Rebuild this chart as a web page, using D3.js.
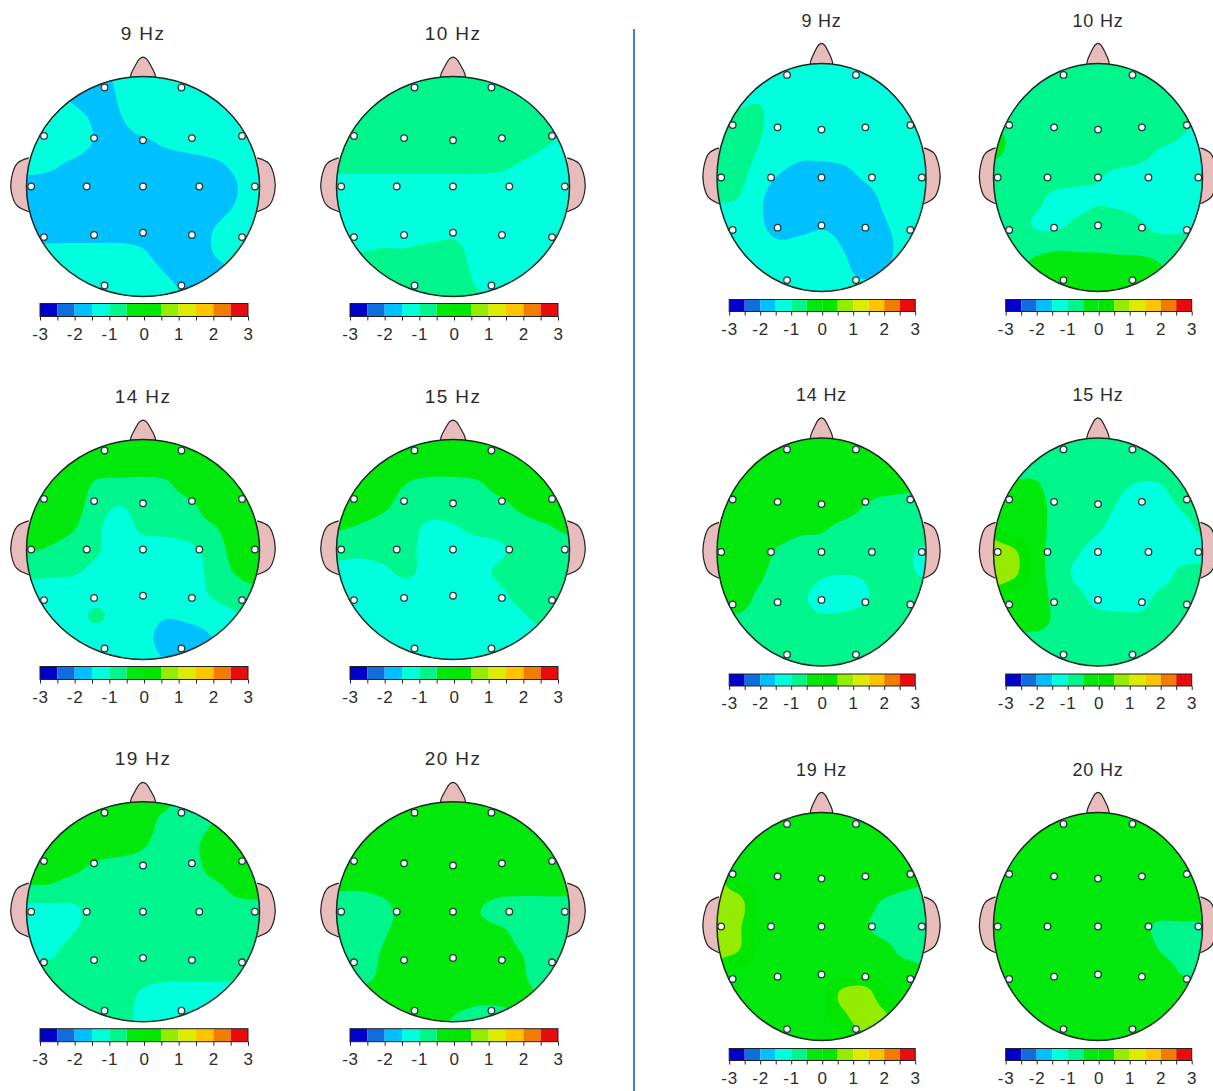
<!DOCTYPE html>
<html>
<head>
<meta charset="utf-8">
<title>Topographic maps</title>
<script src="https://cdn.jsdelivr.net/npm/d3@7"></script>
<style>
    html, body { margin: 0; padding: 0; background: #fff; }
    svg { display: block; }
</style>
</head>
<body>
<svg id="svg" width="1213" height="1091"></svg>
<script>
const frequencies = ["9 Hz", "10 Hz", "14 Hz", "15 Hz", "19 Hz", "20 Hz"];

const bandEdges = [-3, -2.5, -2, -1.5, -1, -0.5, 0, 0.5, 1, 1.5, 2, 2.5];
const bandColors = ["#0000c8", "#0f6edc", "#00c0ff", "#00ffdc", "#00f58c", "#00e80c",
    "#00e600", "#96ec00", "#dceb00", "#ffc400", "#f07c00", "#e80c0c"];
const colorbarTicks = [-3, -2.5, -2, -1.5, -1, -0.5, 0, 0.5, 1, 1.5, 2, 2.5, 3];

// 10-20 electrode sites, head units (-1..1)
const electrodeX = [-0.33, 0.33, -0.85, -0.42, 0, 0.42, 0.85, -0.96, -0.483, 0, 0.483, 0.96, -0.85, -0.42, 0, 0.42, 0.85, -0.33, 0.33];
const electrodeY = [-0.9, -0.9, -0.46, -0.44, -0.42, -0.44, -0.46, 0, 0, 0, 0, 0, 0.46, 0.44, 0.42, 0.44, 0.46, 0.9, 0.9];

// maps: 11 x 11 samples, left to right and top to bottom over the head
const left9 = [
    [-1.2, -1.2, -1.2, -1.6, -1.4, -1.2, -1.2, -1.2, -1.2, -1.2, -1.2],
    [-1.2, -1.2, -1.55, -1.8, -1.45, -1.2, -1.2, -1.2, -1.2, -1.2, -1.2],
    [-1.2, -1.2, -1.2, -1.6, -1.55, -1.2, -1.2, -1.2, -1.2, -1.2, -1.2],
    [-1.2, -1.2, -1.2, -1.55, -1.7, -1.6, -1.4, -1.25, -1.2, -1.2, -1.2],
    [-1.3, -1.4, -1.6, -1.8, -1.8, -1.8, -1.8, -1.75, -1.6, -1.4, -1.2],
    [-1.7, -1.7, -1.8, -1.8, -1.8, -1.8, -1.8, -1.8, -1.7, -1.52, -1.2],
    [-1.7, -1.7, -1.8, -1.8, -1.8, -1.8, -1.8, -1.8, -1.7, -1.45, -1.2],
    [-1.7, -1.7, -1.7, -1.7, -1.7, -1.7, -1.7, -1.7, -1.5, -1.2, -1.2],
    [-1.35, -1.35, -1.35, -1.35, -1.35, -1.45, -1.75, -1.75, -1.5, -1.2, -1.2],
    [-1.2, -1.2, -1.2, -1.2, -1.2, -1.2, -1.5, -1.7, -1.7, -1.6, -1.5],
    [-1.2, -1.2, -1.2, -1.2, -1.2, -1.2, -1.3, -1.6, -1.7, -1.7, -1.7]
];
const left10 = [
    [-0.75, -0.75, -0.75, -0.75, -0.75, -0.75, -0.75, -0.75, -0.75, -0.75, -0.75],
    [-0.75, -0.75, -0.75, -0.75, -0.75, -0.75, -0.75, -0.75, -0.75, -0.75, -0.75],
    [-0.75, -0.75, -0.75, -0.75, -0.75, -0.75, -0.75, -0.75, -0.75, -0.75, -0.75],
    [-0.75, -0.75, -0.75, -0.75, -0.75, -0.75, -0.75, -0.75, -0.75, -0.95, -1.15],
    [-0.85, -0.85, -0.85, -0.85, -0.85, -0.85, -0.85, -0.9, -1.05, -1.2, -1.2],
    [-1.2, -1.2, -1.2, -1.2, -1.2, -1.2, -1.2, -1.2, -1.2, -1.2, -1.2],
    [-1.25, -1.25, -1.25, -1.25, -1.25, -1.25, -1.25, -1.25, -1.25, -1.25, -1.25],
    [-1.2, -1.2, -1.2, -1.2, -1.2, -1.1, -1.2, -1.25, -1.25, -1.25, -1.25],
    [-1.0, -1.0, -0.95, -0.95, -0.85, -0.85, -1.15, -1.25, -1.25, -1.25, -1.25],
    [-0.75, -0.75, -0.75, -0.75, -0.75, -0.75, -1.08, -1.25, -1.25, -1.25, -1.25],
    [-0.75, -0.75, -0.75, -0.75, -0.75, -0.75, -0.95, -1.25, -1.25, -1.25, -1.25]
];
const left14 = [
    [-0.25, -0.25, -0.25, -0.25, -0.25, -0.25, -0.25, -0.25, -0.25, -0.25, -0.25],
    [-0.25, -0.25, -0.25, -0.25, -0.25, -0.25, -0.25, -0.25, -0.25, -0.25, -0.25],
    [-0.25, -0.25, -0.25, -0.55, -0.6, -0.6, -0.55, -0.25, -0.25, -0.25, -0.25],
    [-0.25, -0.25, -0.3, -0.75, -1.0, -0.75, -0.75, -0.6, -0.25, -0.25, -0.25],
    [-0.25, -0.3, -0.45, -0.9, -1.2, -0.9, -0.85, -0.75, -0.55, -0.25, -0.25],
    [-0.45, -0.55, -0.75, -0.95, -1.2, -1.2, -1.2, -1.1, -0.8, -0.3, -0.25],
    [-0.85, -0.9, -0.95, -1.1, -1.2, -1.2, -1.2, -1.2, -0.85, -0.45, -0.3],
    [-1.2, -1.2, -1.2, -1.2, -1.2, -1.2, -1.2, -1.2, -0.95, -0.75, -0.6],
    [-1.2, -1.2, -1.2, -0.93, -1.2, -1.25, -1.45, -1.35, -1.2, -1.05, -0.9],
    [-1.2, -1.2, -1.2, -1.2, -1.25, -1.3, -1.75, -1.75, -1.5, -1.2, -1.2],
    [-1.25, -1.25, -1.25, -1.25, -1.25, -1.25, -1.55, -1.7, -1.6, -1.25, -1.25]
];
const left15 = [
    [-0.25, -0.25, -0.25, -0.25, -0.25, -0.25, -0.25, -0.25, -0.25, -0.25, -0.25],
    [-0.25, -0.25, -0.25, -0.25, -0.25, -0.25, -0.25, -0.25, -0.25, -0.25, -0.25],
    [-0.25, -0.25, -0.25, -0.5, -0.6, -0.6, -0.55, -0.35, -0.25, -0.25, -0.25],
    [-0.25, -0.25, -0.4, -0.7, -0.75, -0.75, -0.75, -0.6, -0.4, -0.25, -0.25],
    [-0.45, -0.55, -0.7, -0.8, -1.1, -1.05, -0.85, -0.75, -0.65, -0.55, -0.4],
    [-0.8, -0.85, -0.8, -0.85, -1.2, -1.25, -1.25, -1.1, -0.75, -0.75, -0.7],
    [-1.15, -1.2, -1.1, -0.9, -1.2, -1.25, -1.2, -0.9, -0.75, -0.75, -0.75],
    [-1.25, -1.25, -1.25, -1.25, -1.25, -1.25, -1.25, -1.1, -0.8, -0.75, -0.7],
    [-1.25, -1.25, -1.25, -1.25, -1.25, -1.25, -1.25, -1.25, -1.05, -0.75, -0.75],
    [-1.25, -1.25, -1.25, -1.25, -1.25, -1.25, -1.25, -1.25, -1.25, -1.25, -1.25],
    [-1.25, -1.25, -1.25, -1.25, -1.25, -1.25, -1.25, -1.25, -1.25, -1.25, -1.25]
];
const left19 = [
    [-0.25, -0.25, -0.25, -0.25, -0.25, -0.25, -0.4, -0.75, -0.75, -0.75, -0.75],
    [-0.25, -0.25, -0.25, -0.25, -0.25, -0.25, -0.7, -0.75, -0.5, -0.35, -0.3],
    [-0.25, -0.25, -0.25, -0.25, -0.25, -0.45, -0.75, -0.65, -0.3, -0.25, -0.25],
    [-0.25, -0.3, -0.4, -0.6, -0.75, -0.75, -0.75, -0.7, -0.35, -0.25, -0.25],
    [-0.6, -0.6, -0.75, -0.75, -0.75, -0.75, -0.75, -0.75, -0.65, -0.4, -0.3],
    [-1.2, -1.2, -1.1, -0.8, -0.75, -0.75, -0.75, -0.75, -0.75, -0.7, -0.75],
    [-1.2, -1.2, -1.0, -0.8, -0.75, -0.75, -0.75, -0.75, -0.75, -0.75, -0.75],
    [-1.05, -1.05, -0.8, -0.75, -0.75, -0.75, -0.75, -0.75, -0.75, -0.75, -0.75],
    [-0.75, -0.75, -0.75, -0.75, -0.75, -0.9, -0.95, -0.95, -0.95, -0.95, -0.9],
    [-0.75, -0.75, -0.75, -0.75, -0.8, -1.1, -1.2, -1.2, -1.2, -1.2, -1.2],
    [-0.75, -0.75, -0.75, -0.75, -0.85, -1.1, -1.2, -1.2, -1.2, -1.2, -1.2]
];
const left20 = [
    [-0.25, -0.25, -0.25, -0.25, -0.25, -0.25, -0.25, -0.25, -0.25, -0.25, -0.25],
    [-0.25, -0.25, -0.25, -0.25, -0.25, -0.25, -0.25, -0.25, -0.25, -0.25, -0.25],
    [-0.25, -0.25, -0.25, -0.25, -0.25, -0.25, -0.25, -0.25, -0.25, -0.25, -0.25],
    [-0.25, -0.25, -0.25, -0.25, -0.25, -0.25, -0.25, -0.25, -0.25, -0.25, -0.25],
    [-0.48, -0.48, -0.4, -0.25, -0.25, -0.25, -0.25, -0.35, -0.4, -0.4, -0.4],
    [-0.75, -0.75, -0.65, -0.3, -0.25, -0.25, -0.45, -0.75, -0.75, -0.75, -0.75],
    [-0.75, -0.75, -0.55, -0.3, -0.25, -0.25, -0.25, -0.35, -0.7, -0.75, -0.75],
    [-0.75, -0.75, -0.45, -0.25, -0.25, -0.25, -0.25, -0.25, -0.5, -0.75, -0.75],
    [-0.75, -0.65, -0.4, -0.25, -0.25, -0.25, -0.25, -0.25, -0.45, -0.75, -0.75],
    [-0.25, -0.25, -0.25, -0.25, -0.25, -0.3, -0.4, -0.4, -0.35, -0.6, -0.75],
    [-0.25, -0.25, -0.25, -0.25, -0.25, -0.55, -0.75, -0.75, -0.6, -0.6, -0.75]
];
const right9 = [
    [-1.25, -1.25, -1.25, -1.25, -1.25, -1.25, -1.25, -1.25, -1.25, -1.25, -1.25],
    [-1.25, -1.25, -1.25, -1.25, -1.25, -1.25, -1.25, -1.25, -1.25, -1.25, -1.25],
    [-1.0, -1.0, -0.95, -1.25, -1.25, -1.25, -1.25, -1.25, -1.25, -1.25, -1.25],
    [-0.8, -0.75, -0.95, -1.25, -1.25, -1.25, -1.25, -1.25, -1.25, -1.25, -1.25],
    [-0.75, -0.75, -1.05, -1.25, -1.4, -1.4, -1.35, -1.25, -1.25, -1.25, -1.25],
    [-0.75, -0.85, -1.25, -1.55, -1.75, -1.75, -1.7, -1.45, -1.25, -1.25, -1.25],
    [-0.98, -1.02, -1.4, -1.8, -1.8, -1.8, -1.8, -1.8, -1.4, -1.25, -1.25],
    [-1.25, -1.25, -1.4, -1.8, -1.75, -1.6, -1.7, -1.8, -1.55, -1.25, -1.25],
    [-1.25, -1.25, -1.25, -1.4, -1.3, -1.25, -1.52, -1.8, -1.7, -1.25, -1.25],
    [-1.25, -1.25, -1.25, -1.25, -1.25, -1.25, -1.35, -1.7, -1.55, -1.25, -1.25],
    [-1.25, -1.25, -1.25, -1.25, -1.25, -1.25, -1.25, -1.25, -1.25, -1.25, -1.25]
];
const right10 = [
    [-0.75, -0.75, -0.75, -0.75, -0.75, -0.75, -0.75, -0.75, -0.75, -0.75, -0.75],
    [-0.75, -0.75, -0.75, -0.75, -0.75, -0.75, -0.75, -0.75, -0.75, -0.75, -0.75],
    [-0.75, -0.75, -0.75, -0.75, -0.75, -0.75, -0.75, -0.75, -0.75, -0.75, -0.75],
    [-0.45, -0.6, -0.75, -0.75, -0.75, -0.75, -0.75, -0.75, -0.75, -0.95, -1.15],
    [-0.45, -0.6, -0.75, -0.75, -0.75, -0.75, -0.75, -0.85, -1.1, -1.2, -1.25],
    [-0.75, -0.75, -0.75, -0.75, -0.85, -0.97, -1.15, -1.25, -1.25, -1.25, -1.25],
    [-0.75, -0.75, -0.85, -1.2, -1.2, -1.05, -1.15, -1.25, -1.25, -1.25, -1.25],
    [-0.75, -0.75, -1.05, -1.15, -0.9, -0.75, -0.75, -0.95, -1.2, -1.2, -1.1],
    [-0.75, -0.75, -0.7, -0.6, -0.6, -0.6, -0.65, -0.7, -0.75, -0.75, -0.75],
    [-0.75, -0.75, -0.3, -0.25, -0.25, -0.25, -0.25, -0.25, -0.45, -0.75, -0.75],
    [-0.75, -0.75, -0.25, -0.25, -0.25, -0.25, -0.25, -0.25, -0.25, -0.75, -0.75]
];
const right14 = [
    [-0.25, -0.25, -0.25, -0.25, -0.25, -0.25, -0.25, -0.25, -0.25, -0.25, -0.25],
    [-0.25, -0.25, -0.25, -0.25, -0.25, -0.25, -0.25, -0.25, -0.25, -0.25, -0.25],
    [-0.25, -0.25, -0.25, -0.25, -0.25, -0.25, -0.25, -0.25, -0.25, -0.35, -0.4],
    [-0.25, -0.25, -0.25, -0.25, -0.25, -0.25, -0.25, -0.5, -0.7, -0.7, -0.75],
    [-0.25, -0.25, -0.25, -0.25, -0.4, -0.45, -0.65, -0.75, -0.75, -0.75, -0.75],
    [-0.25, -0.25, -0.25, -0.6, -0.75, -0.75, -0.75, -0.75, -0.75, -0.9, -1.1],
    [-0.25, -0.25, -0.4, -0.75, -0.75, -0.95, -1.0, -0.95, -0.75, -0.9, -1.05],
    [-0.25, -0.25, -0.6, -0.75, -0.9, -1.2, -1.25, -1.1, -0.75, -0.75, -0.75],
    [-0.7, -0.6, -0.75, -0.75, -0.8, -0.9, -0.85, -0.75, -0.75, -0.75, -0.75],
    [-0.75, -0.75, -0.75, -0.75, -0.75, -0.75, -0.75, -0.75, -0.75, -0.75, -0.75],
    [-0.75, -0.75, -0.75, -0.75, -0.75, -0.75, -0.75, -0.75, -0.75, -0.75, -0.75]
];
const right15 = [
    [-0.75, -0.75, -0.75, -0.75, -0.75, -0.75, -0.75, -0.75, -0.75, -0.75, -0.75],
    [-0.75, -0.75, -0.75, -0.75, -0.75, -0.75, -0.75, -0.75, -0.75, -0.75, -0.75],
    [-0.45, -0.45, -0.45, -0.75, -0.75, -0.75, -0.9, -1.02, -1.0, -0.75, -0.75],
    [-0.25, -0.25, -0.25, -0.7, -0.75, -0.8, -1.05, -1.25, -1.2, -0.95, -0.75],
    [0.2, -0.25, -0.25, -0.7, -0.75, -0.95, -1.2, -1.25, -1.25, -1.2, -0.9],
    [0.8, 0.6, -0.25, -0.7, -0.95, -1.2, -1.25, -1.25, -1.25, -1.25, -1.2],
    [0.8, 0.6, -0.25, -0.7, -1.1, -1.25, -1.25, -1.25, -1.25, -0.85, -0.75],
    [0.2, -0.25, -0.25, -0.65, -0.85, -1.2, -1.25, -1.25, -0.85, -0.75, -0.75],
    [-0.25, -0.25, -0.25, -0.6, -0.75, -0.8, -0.85, -0.85, -0.75, -0.75, -0.75],
    [-0.75, -0.75, -0.75, -0.75, -0.75, -0.75, -0.75, -0.75, -0.75, -0.75, -0.75],
    [-0.75, -0.75, -0.75, -0.75, -0.75, -0.75, -0.75, -0.75, -0.75, -0.75, -0.75]
];
const right19 = [
    [-0.1, -0.1, -0.1, -0.1, -0.1, -0.1, -0.1, -0.1, -0.1, -0.1, -0.1],
    [-0.1, -0.1, -0.1, -0.1, -0.1, -0.1, -0.1, -0.1, -0.1, -0.1, -0.1],
    [-0.1, -0.1, -0.1, -0.1, -0.1, -0.1, -0.1, -0.1, -0.1, -0.1, -0.1],
    [0.6, 0.1, -0.1, -0.1, -0.1, -0.1, -0.1, -0.1, -0.1, -0.3, -0.45],
    [0.75, 0.75, -0.1, -0.1, -0.1, -0.1, -0.1, -0.2, -0.6, -0.75, -0.75],
    [0.75, 0.6, -0.1, -0.1, -0.1, -0.1, -0.1, -0.4, -0.75, -0.75, -0.75],
    [0.75, 0.55, -0.1, -0.1, -0.1, -0.1, -0.1, -0.1, -0.3, -0.7, -0.75],
    [0.1, -0.1, -0.1, -0.1, -0.1, -0.1, -0.1, -0.1, -0.1, -0.2, -0.4],
    [-0.1, -0.1, -0.1, -0.1, -0.1, -0.1, 0.65, 0.85, 0.1, -0.1, -0.1],
    [-0.1, -0.1, -0.1, -0.1, -0.1, -0.1, 0.3, 0.85, 0.65, -0.1, -0.1],
    [-0.1, -0.1, -0.1, -0.1, -0.1, -0.1, -0.1, 0.3, 0.65, -0.1, -0.1]
];
const right20 = [
    [-0.1, -0.1, -0.1, -0.1, -0.1, -0.1, -0.1, -0.1, -0.1, -0.1, -0.1],
    [-0.1, -0.1, -0.1, -0.1, -0.1, -0.1, -0.1, -0.1, -0.1, -0.1, -0.1],
    [-0.1, -0.1, -0.1, -0.1, -0.1, -0.1, -0.1, -0.1, -0.1, -0.1, -0.1],
    [-0.1, -0.1, -0.1, -0.1, -0.1, -0.1, -0.1, -0.1, -0.1, -0.1, -0.1],
    [-0.1, -0.1, -0.1, -0.1, -0.1, -0.1, -0.1, -0.1, -0.1, -0.1, -0.1],
    [-0.1, -0.1, -0.1, -0.1, -0.1, -0.1, -0.1, -0.35, -0.6, -0.6, -0.6],
    [-0.1, -0.1, -0.1, -0.1, -0.1, -0.1, -0.1, -0.1, -0.55, -0.75, -0.75],
    [-0.1, -0.1, -0.1, -0.1, -0.1, -0.1, -0.1, -0.1, -0.1, -0.55, -0.65],
    [-0.1, -0.1, -0.1, -0.1, -0.1, -0.1, -0.1, -0.1, -0.1, -0.1, -0.1],
    [-0.1, -0.1, -0.1, -0.1, -0.1, -0.1, -0.1, -0.1, -0.1, -0.1, -0.1],
    [-0.1, -0.1, -0.1, -0.1, -0.1, -0.1, -0.1, -0.1, -0.1, -0.1, -0.1]
];

const leftMaps = [left9, left10, left14, left15, left19, left20];
const rightMaps = [right9, right10, right14, right15, right19, right20];

const svg = d3.select("#svg");
const fineSteps = 6;
let clipCount = 0;

const noseShape = [[-0.11, -0.98], [-0.1, -1.03], [-0.066, -1.1], [-0.03, -1.16], [0, -1.176], [0.03, -1.16], [0.066, -1.1], [0.1, -1.03], [0.11, -0.98]];
const earShape = [[0.98, -0.26], [1.08, -0.21], [1.13, -0.07], [1.13, 0.05], [1.085, 0.17], [0.98, 0.23]];

// one cubic step along a run of samples, ends clamped
function cubicAt(line, pos) {
    const i = Math.min(Math.floor(pos), line.length - 2);
    const t = pos - i;
    const p0 = line[Math.max(i - 1, 0)], p1 = line[i], p2 = line[i + 1], p3 = line[Math.min(i + 2, line.length - 1)];
    return 0.5 * (2 * p1 + (p2 - p0) * t + (2 * p0 - 5 * p1 + 4 * p2 - p3) * t * t + (3 * p1 - p0 - 3 * p2 + p3) * t * t * t);
}

// finer raster of a map so the contour edges come out round
function refine(rows) {
    const n = rows.length;
    const size = (n - 1) * fineSteps + 1;
    const wide = rows.map(row => d3.range(size).map(k => cubicAt(row, k / fineSteps)));
    const out = [];
    for (let j = 0; j < size; j++) {
        for (let k = 0; k < size; k++) {
            out.push(cubicAt(wide.map(row => row[k]), j / fineSteps));
        }
    }
    return { size, out };
}

function drawHead(values, label, layout) {
    const { cx, cy, rx, ry } = layout;
    const g = svg.append("g");
    const fine = refine(values);

    // head units
    const x = d3.scaleLinear().domain([-1, 1]).range([cx - rx, cx + rx]);
    const y = d3.scaleLinear().domain([-1, 1]).range([cy - ry, cy + ry]);
    // contour grid units, samples sit on cell centres
    const gridX = d3.scaleLinear().domain([0.5, fine.size - 0.5]).range([cx - rx, cx + rx]);
    const gridY = d3.scaleLinear().domain([0.5, fine.size - 0.5]).range([cy - ry, cy + ry]);

    g.append("text")
        .attr("x", cx)
        .attr("y", cy + layout.titleDy)
        .attr("text-anchor", "middle")
        .attr("font-family", "Liberation Sans")
        .attr("font-size", layout.titleSize)
        .attr("letter-spacing", layout.titleSpacing)
        .attr("fill", "#2c2c2c")
        .text(label);

    const outline = d3.line().x(d => x(d[0])).y(d => y(d[1])).curve(d3.curveCatmullRom);
    g.append("path")
        .attr("d", outline(noseShape))
        .attr("fill", "#e8bcbc")
        .attr("stroke", "#222")
        .attr("stroke-width", 1.2);
    [1, -1].forEach(side => {
        g.append("path")
            .attr("d", outline(earShape.map(p => [p[0] * side, p[1]])))
            .attr("fill", "#e8bcbc")
            .attr("stroke", "#222")
            .attr("stroke-width", 1.2);
    });

    const clipId = "head" + (clipCount++);
    g.append("clipPath")
        .attr("id", clipId)
        .append("ellipse")
        .attr("cx", cx)
        .attr("cy", cy)
        .attr("rx", rx)
        .attr("ry", ry);

    const contours = d3.contours()
        .size([fine.size, fine.size])
        .smooth(true)
        .thresholds(bandEdges)(fine.out);

    const ring = d3.line()
        .x(d => gridX(d[0]))
        .y(d => gridY(d[1]))
        .curve(d3.curveLinearClosed);

    g.append("g")
        .attr("clip-path", `url(#${clipId})`)
        .selectAll("path")
        .data(contours)
        .join("path")
        .attr("d", c => c.coordinates.map(poly => poly.map(r => ring(r.slice(0, -1))).join("")).join(""))
        .attr("fill-rule", "evenodd")
        .attr("fill", (c, i) => bandColors[i]);

    g.append("ellipse")
        .attr("cx", cx)
        .attr("cy", cy)
        .attr("rx", rx)
        .attr("ry", ry)
        .attr("fill", "none")
        .attr("stroke", "#1c2a22")
        .attr("stroke-width", 1.5);

    g.append("g")
        .selectAll("circle")
        .data(d3.range(electrodeX.length))
        .join("circle")
        .attr("cx", i => x(electrodeX[i]))
        .attr("cy", i => y(electrodeY[i]))
        .attr("r", 3.3)
        .attr("fill", "#eefafa")
        .attr("stroke", "#2a3a3a")
        .attr("stroke-width", 1.3);

    // colour bar
    const barScale = d3.scaleLinear().domain([-3, 3]).range([cx + layout.barLeft, cx + layout.barRight]);
    const bar = g.append("g").attr("transform", `translate(0, ${cy + layout.barTop})`);
    bar.selectAll("rect")
        .data(bandEdges)
        .join("rect")
        .attr("x", d => barScale(d))
        .attr("y", 0)
        .attr("width", d => barScale(d + 0.5) - barScale(d))
        .attr("height", layout.barHeight)
        .attr("fill", (d, i) => bandColors[i]);
    bar.append("rect")
        .attr("x", barScale(-3))
        .attr("y", 0)
        .attr("width", barScale(3) - barScale(-3))
        .attr("height", layout.barHeight)
        .attr("fill", "none")
        .attr("stroke", "#222")
        .attr("stroke-width", 1);

    const axis = d3.axisBottom(barScale)
        .tickValues(colorbarTicks)
        .tickSize(4)
        .tickPadding(layout.tickPadding)
        .tickFormat(d => Number.isInteger(d) ? String(d) : "");
    const axisG = bar.append("g")
        .attr("transform", `translate(0, ${layout.barHeight})`)
        .call(axis);
    axisG.select(".domain").remove();
    axisG.selectAll("line").attr("stroke", "#222");
    axisG.selectAll("text")
        .attr("font-family", "Liberation Sans")
        .attr("font-size", layout.labelSize)
        .attr("letter-spacing", 0.8)
        .attr("fill", "#2c2c2c");
}

const leftLayout = { rx: 116.5, ry: 110, titleDy: -147, titleSize: 19, titleSpacing: 1.4,
    barLeft: -103, barRight: 105, barTop: 117, barHeight: 13, tickPadding: 7, labelSize: 17 };
const rightLayout = { rx: 104.5, ry: 114, titleDy: -151, titleSize: 18, titleSpacing: 0.8,
    barLeft: -92.3, barRight: 93.7, barTop: 122, barHeight: 12, tickPadding: 7, labelSize: 17 };

const leftColumns = [143, 453];
const leftRows = [186.5, 549.5, 911.7];
const rightColumns = [821.5, 1098];
const rightRows = [177.5, 552, 926.5];

frequencies.forEach((label, i) => {
    drawHead(leftMaps[i], label, { ...leftLayout, cx: leftColumns[i % 2], cy: leftRows[Math.floor(i / 2)] });
    drawHead(rightMaps[i], label, { ...rightLayout, cx: rightColumns[i % 2], cy: rightRows[Math.floor(i / 2)] });
});

// divider between the two groups
svg.append("line")
    .attr("x1", 634)
    .attr("x2", 634)
    .attr("y1", 29)
    .attr("y2", 1091)
    .attr("stroke", "#4a80bd")
    .attr("stroke-width", 2);
</script>
</body>
</html>
